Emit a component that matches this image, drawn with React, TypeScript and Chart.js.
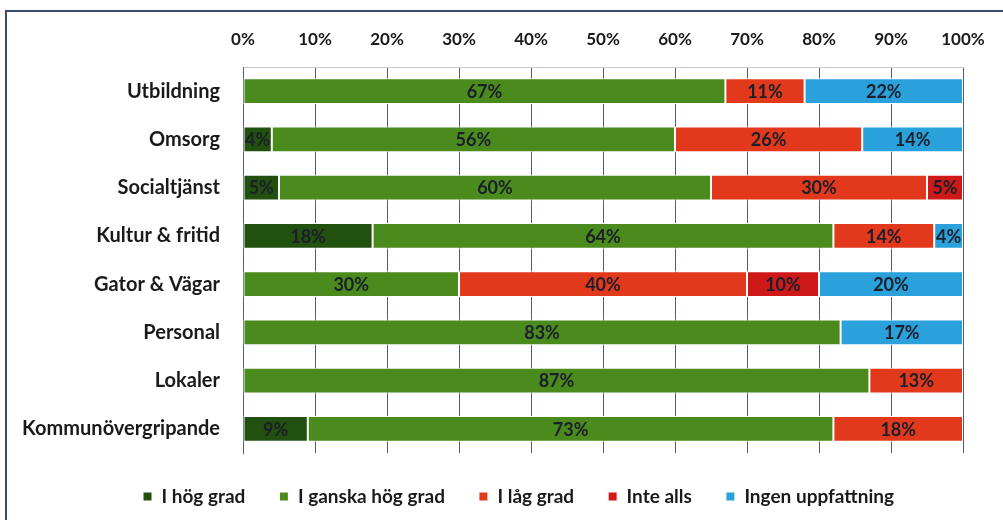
import React, { useEffect, useRef } from "react";
import { Chart, registerables } from "chart.js";

Chart.register(...registerables);

const categories = [
  "Utbildning",
  "Omsorg",
  "Socialtjänst",
  "Kultur & fritid",
  "Gator & Vägar",
  "Personal",
  "Lokaler",
  "Kommunövergripande",
];

const seriesNames = ["I hög grad", "I ganska hög grad", "I låg grad", "Inte alls", "Ingen uppfattning"];

const hogGrad = [0, 4, 5, 18, 0, 0, 0, 9];
const ganskaHogGrad = [67, 56, 60, 64, 30, 83, 87, 73];
const lagGrad = [11, 26, 30, 14, 40, 0, 13, 18];
const inteAlls = [0, 0, 5, 0, 10, 0, 0, 0];
const ingenUppfattning = [22, 14, 0, 4, 20, 17, 0, 0];

const seriesColors = ["#22500f", "#4b8a1d", "#e2391d", "#cf1818", "#2aa1db"];

const tickValues = [0, 10, 20, 30, 40, 50, 60, 70, 80, 90, 100];

const FONT = "Lato, 'Open Sans', sans-serif";
const LEGEND_SHIFT = 37;

const labelPlugin = {
  id: "segLabels",
  afterDatasetsDraw(chart: any) {
    const ctx = chart.ctx;
    ctx.save();
    ctx.font = `bold 18px ${FONT}`;
    ctx.fillStyle = "#1b1f2b";
    ctx.textAlign = "center";
    ctx.textBaseline = "middle";
    chart.data.datasets.forEach((ds: any, di: number) => {
      const meta = chart.getDatasetMeta(di);
      meta.data.forEach((el: any, i: number) => {
        const v = ds.data[i];
        if (!v) return;
        const x = (el.x + el.base) / 2;
        ctx.fillText(`${v}%`, x, el.y + 1);
      });
    });
    ctx.restore();
  },
};

const legendShiftPlugin = {
  id: "legendShift",
  afterLayout(chart: any) {
    if (chart.legend) {
      chart.legend.left += LEGEND_SHIFT;
      chart.legend.right += LEGEND_SHIFT;
    }
  },
};

export default function App() {
  const ref = useRef<HTMLCanvasElement | null>(null);

  useEffect(() => {
    if (!ref.current) return;
    const data = [hogGrad, ganskaHogGrad, lagGrad, inteAlls, ingenUppfattning];
    const chart = new Chart(ref.current, {
      type: "bar",
      data: {
        labels: categories,
        datasets: seriesNames.map((name, i) => ({
          label: name,
          data: data[i],
          backgroundColor: seriesColors[i],
          borderColor: "#ffffff",
          borderWidth: 1,
          borderSkipped: false,
          barPercentage: 0.53,
          categoryPercentage: 1,
        })),
      },
      options: {
        indexAxis: "y",
        animation: false,
        responsive: false,
        maintainAspectRatio: false,
        layout: { padding: { left: 0, right: 40, top: 0, bottom: 4 } },
        scales: {
          x: {
            position: "top",
            stacked: true,
            min: 0,
            max: 100,
            afterBuildTicks: (scale: any) => {
              scale.ticks = tickValues.map((v) => ({ value: v }));
            },
            afterFit: (scale: any) => {
              scale.height = 67;
            },
            ticks: {
              callback: (v: any) => `${v}%`,
              font: { family: FONT, size: 17, weight: "bold" },
              color: "#1a1a1a",
              padding: 17,
              maxRotation: 0,
            },
            grid: { color: "#4f5d78", lineWidth: 1, drawTicks: false },
            border: { display: true, color: "#c4c8d0", width: 1 },
          },
          y: {
            stacked: true,
            afterFit: (scale: any) => {
              scale.width = 243;
            },
            ticks: {
              font: { family: FONT, size: 20, weight: "bold" },
              color: "#1a1a1a",
              padding: 15,
            },
            grid: { display: false },
            border: { display: true, color: "#4f5d78", width: 1 },
          },
        },
        plugins: {
          legend: {
            position: "bottom",
            labels: {
              boxWidth: 9,
              boxHeight: 9,
              padding: 34,
              color: "#1a1a1a",
              font: { family: FONT, size: 19, weight: "bold" },
            },
          },
          tooltip: { enabled: false },
        },
      },
      plugins: [labelPlugin, legendShiftPlugin],
    });
    return () => chart.destroy();
  }, []);

  return (
    <div style={{ position: "absolute", left: 0, top: 0, width: 1003, height: 520, overflow: "hidden", background: "#fff" }}>
      <div
        style={{
          position: "absolute",
          left: 5,
          top: 10,
          width: 1100,
          height: 600,
          borderLeft: "2px solid #3b4b6b",
          borderTop: "2px solid #3b4b6b",
        }}
      />
      <canvas ref={ref} width={1003} height={520} style={{ position: "absolute", left: 0, top: 0 }} />
    </div>
  );
}
